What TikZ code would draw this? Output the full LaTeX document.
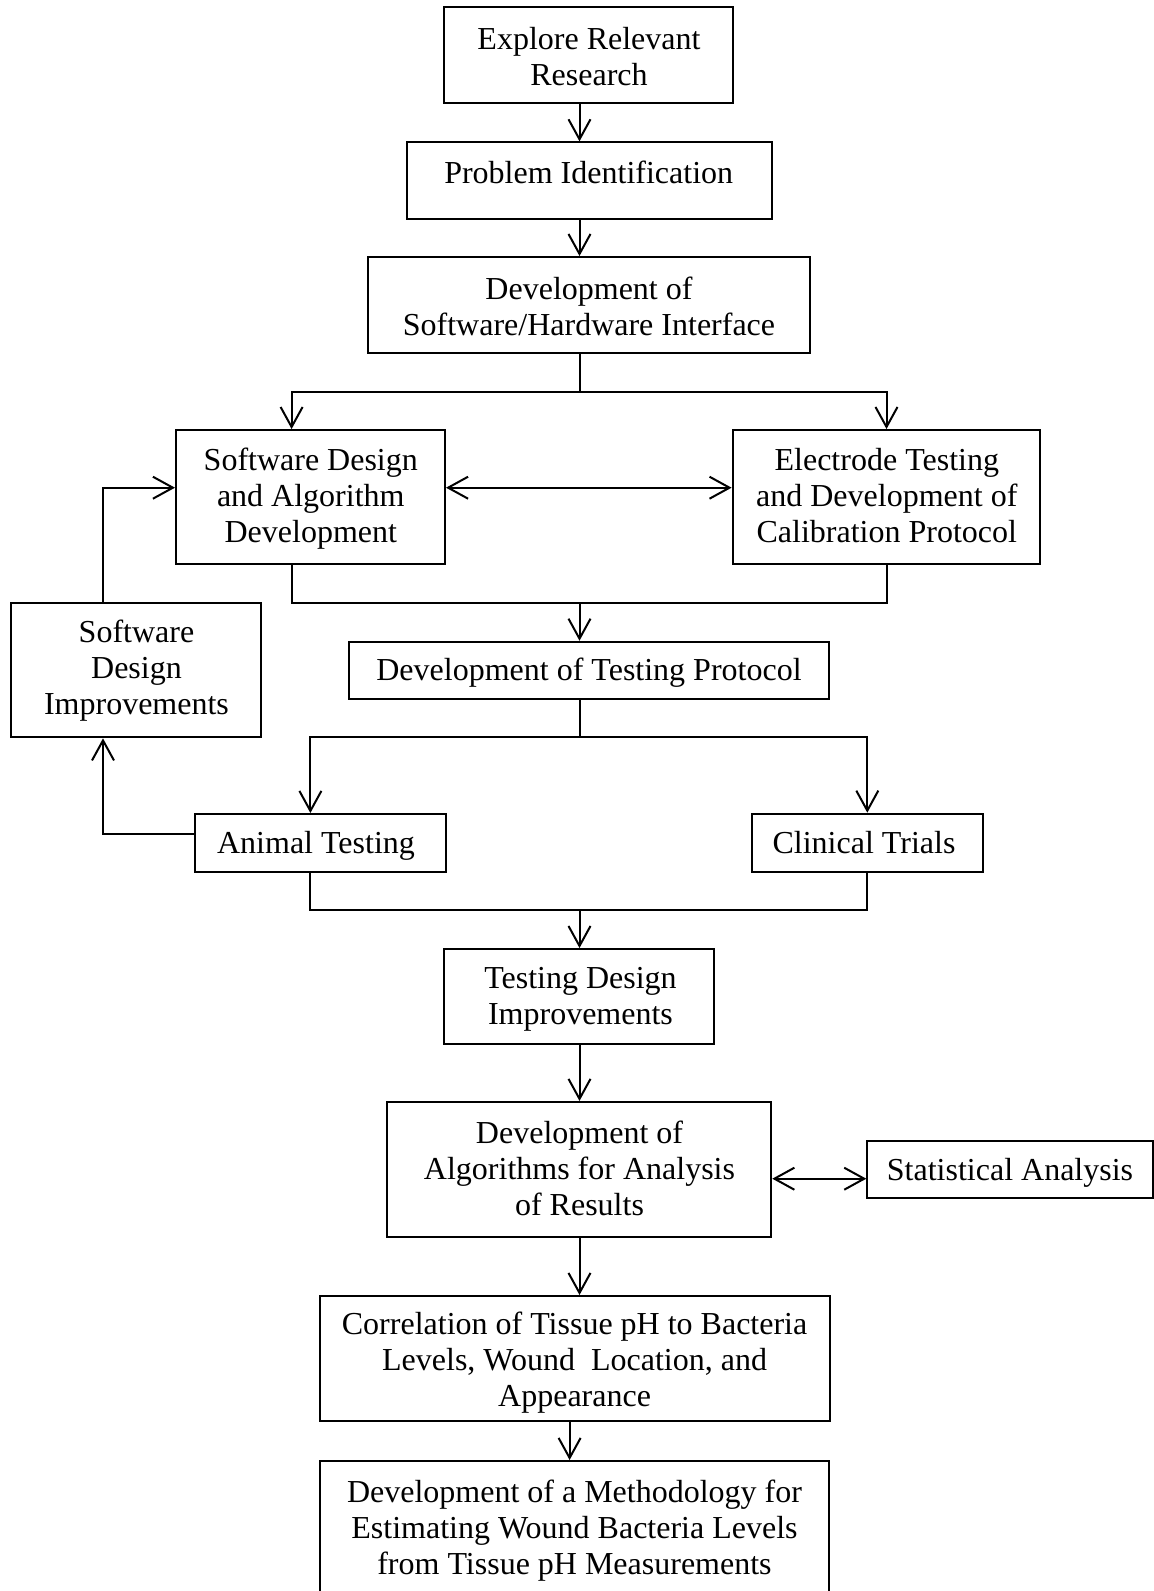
\documentclass[tikz,border=0pt]{standalone}
\usepackage{fontspec}
\setmainfont{Liberation Serif}
\usetikzlibrary{arrows.meta}
\begin{document}
\begin{tikzpicture}[x=1pt,y=-1pt,
  box/.style={draw, line width=2pt, inner sep=0pt},
  txt/.style={align=center, inner sep=0pt, font=\fontsize{32}{36}\selectfont},
  ln/.style={line width=2pt},
  arr/.style={line width=2pt, -{Straight Barb[length=20pt,width=22pt]}},
  darr/.style={line width=2pt, {Straight Barb[length=20pt,width=22pt]}-{Straight Barb[length=20pt,width=22pt]}}]
\path[use as bounding box] (0,0) rectangle (1154,1591);
\fill[white] (0,0) rectangle (1154,1591);
\clip (0,0) rectangle (1154,1591);

% column / row helper coordinates
\coordinate (mx) at (579.5,0);
\coordinate (mx2) at (569.6,0);
\coordinate (sdx) at (291.6,0);
\coordinate (atx) at (310.4,0);
\coordinate (fx) at (103,0);
\coordinate (ry1) at (0,487.7);
\coordinate (ry2) at (0,1178.7);
\coordinate (ry3) at (0,833.7);
\coordinate (j1) at (579.5,391.7);
\coordinate (j2) at (579.5,603);
\coordinate (j3) at (579.5,737.3);
\coordinate (j4) at (579.5,910.3);

% boxes
\node[box, minimum width=289pt, minimum height=96pt] (er) at (588.8,55.3) {};
\node[box, minimum width=365pt, minimum height=76.7pt] (pi) at (589.2,180.7) {};
\node[box, minimum width=442pt, minimum height=96.3pt] (dsh) at (589,305.2) {};
\node[box, minimum width=269pt, minimum height=134.3pt] (sd) at (310.5,497.2) {};
\node[box, minimum width=307.8pt, minimum height=134.3pt] (et) at (886.5,497.2) {};
\node[box, minimum width=480.7pt, minimum height=57.3pt] (dtp) at (589,670.4) {};
\node[box, minimum width=250.3pt, minimum height=134.3pt] (sdi) at (136.3,670.2) {};
\node[box, minimum width=250.3pt, minimum height=58pt] (at) at (320.4,843) {};
\node[box, minimum width=231.3pt, minimum height=58pt] (ct) at (867.3,842.7) {};
\node[box, minimum width=270pt, minimum height=95.3pt] (tdi) at (579.3,996.7) {};
\node[box, minimum width=384pt, minimum height=134.7pt] (alg) at (579.3,1169.3) {};
\node[box, minimum width=285.2pt, minimum height=57.6pt] (sa) at (1009.9,1169.5) {};
\node[box, minimum width=510pt, minimum height=125pt] (cor) at (574.6,1358.5) {};
\node[box, minimum width=509pt, minimum height=139pt] (fin) at (574.1,1530.5) {};

% texts
\node[txt, anchor=north] (ert) at (589,27.4) {Explore Relevant\\Research};
\node[txt, anchor=base] (pit) at (588.7,183.3) {Problem Identification};
\node[txt, anchor=north] (dsht) at (589,277) {Development of\\Software/Hardware Interface};
\node[txt, anchor=north] (sdt) at (310.8,448.1) {Software Design\\and Algorithm\\Development};
\node[txt, anchor=north] (ett) at (886.8,448.1) {Electrode Testing\\and Development of\\Calibration Protocol};
\node[txt, anchor=base] (dtpt) at (589,680.7) {Development of Testing Protocol};
\node[txt, anchor=north] (sdit) at (136.5,619.8) {Software\\Design\\Improvements};
\node[txt, anchor=base] (att) at (316,853) {Animal Testing};
\node[txt, anchor=base] (ctt) at (864,853.3) {Clinical Trials};
\node[txt, anchor=north] (tdit) at (580.5,966.6) {Testing Design\\Improvements};
\node[txt, anchor=north] (algt) at (579.5,1121.1) {Development of\\Algorithms for Analysis\\of Results};
\node[txt, anchor=base] (sat) at (1010,1180) {Statistical Analysis};
\node[txt, anchor=north] (cort) at (574.6,1312.1) {Correlation of Tissue pH to Bacteria\\Levels, Wound~ Location, and\\Appearance};
\node[txt, anchor=north] (fint) at (574.5,1479.8) {Development of a Methodology for\\Estimating Wound Bacteria Levels\\from Tissue pH Measurements};

% connectors
\draw[arr] (er.south -| mx) -- (pi.north -| mx);
\draw[arr] (pi.south -| mx) -- (dsh.north -| mx);
\draw[ln] (dsh.south -| mx) -- (j1);
\draw[arr] (j1) -| (sd.north -| sdx);
\draw[arr] (j1) -| (et.north);
\draw[darr] (sd.east |- ry1) -- (et.west |- ry1);
\draw[ln] (sd.south -| sdx) |- (j2) -| (et.south);
\draw[arr] (j2) -- (dtp.north -| mx);
\draw[ln] (dtp.south -| mx) -- (j3);
\draw[arr] (j3) -| (at.north -| atx);
\draw[arr] (j3) -| (ct.north);
\draw[ln] (at.south -| atx) |- (j4) -| (ct.south);
\draw[arr] (j4) -- (tdi.north -| mx);
\draw[arr] (tdi.south -| mx) -- (alg.north -| mx);
\draw[darr] (alg.east |- ry2) -- (sa.west |- ry2);
\draw[arr] (alg.south -| mx) -- (cor.north -| mx);
\draw[arr] (cor.south -| mx2) -- (fin.north -| mx2);
\draw[arr] (at.west |- ry3) -| (sdi.south -| fx);
\draw[arr] (sdi.north -| fx) |- (sd.west |- ry1);
\end{tikzpicture}
\end{document}
